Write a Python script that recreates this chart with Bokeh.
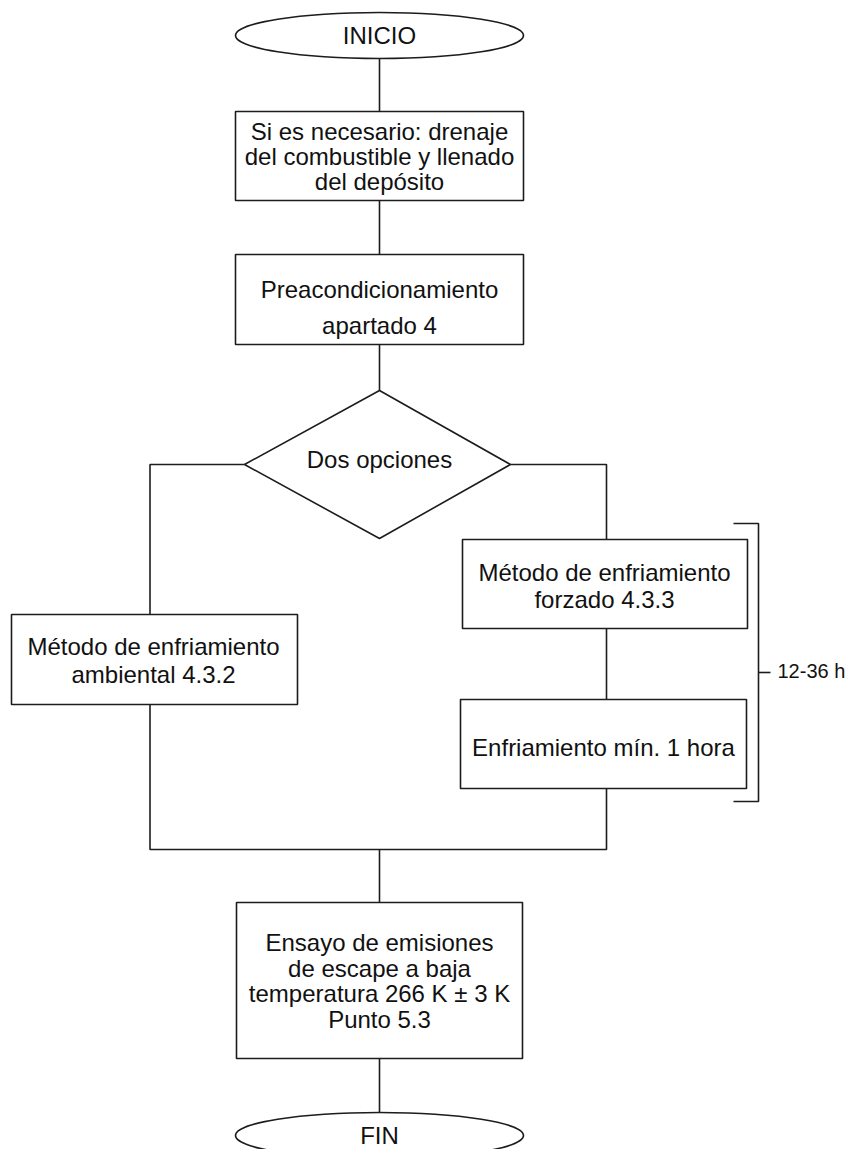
from bokeh.plotting import figure
from bokeh.models import Range1d, ColumnDataSource
from bokeh.core.properties import value
from bokeh.embed import file_html
from bokeh.resources import INLINE

# ---- content ----
terminal_labels = ["INICIO", "FIN"]
step_labels = [
    "Si es necesario: drenaje\ndel combustible y llenado\ndel depósito",
    "Preacondicionamiento\napartado 4",
    "Método de enfriamiento\nforzado 4.3.3",
    "Enfriamiento mín. 1 hora",
    "Método de enfriamiento\nambiental 4.3.2",
    "Ensayo de emisiones\nde escape a baja\ntemperatura 266 K ± 3 K\nPunto 5.3",
]
decision_label = "Dos opciones"
duration_label = "12-36 h"

# ---- layout (page pixel coordinates) ----
term_x = [379, 379]
term_y = [35, 1135]
term_w = 288
term_h = 46

step_left = [235, 235, 462, 460, 11, 236]
step_right = [523, 523, 747, 746, 297, 522]
step_top = [111, 254, 539, 699, 614, 902]
step_bottom = [200, 344, 628, 788, 704, 1058]
step_text_x = [379, 379, 604, 603, 153, 379]
step_text_y = [156, 307, 585.5, 747, 660, 980.5]
step_line_gap = [25, 36, 27, 0, 28, 25.7]

dia_x = [379, 510, 379, 244]
dia_y = [390, 464, 538, 464]
dia_text = (379, 459)

connectors_x = [
    [379, 379], [379, 379], [379, 379],
    [244, 149.5, 149.5], [510, 606, 606],
    [149.5, 149.5, 606, 606], [606, 606],
    [379, 379], [379, 379],
]
connectors_y = [
    [58, 111], [200, 254], [344, 390],
    [464, 464, 614], [464, 464, 539],
    [704, 849, 849, 788], [628, 699],
    [849, 902], [1058, 1112],
]

bracket_x = [733, 758, 758, 733]
bracket_y = [523, 523, 801, 801]
tick_x = [758, 770]
tick_y = [672, 672]
duration_pos = (777, 670)

LINE = "#1c1c1c"
TXT = "#111111"
FONT = value("Liberation Sans")
LW = 1.6
W, H = 851, 1149

p = figure(width=W, height=H, output_backend="svg", toolbar_location=None,
           x_range=Range1d(0, W), y_range=Range1d(H, 0),
           min_border=0, min_border_left=0, min_border_right=0,
           min_border_top=0, min_border_bottom=0)
p.axis.visible = False
p.grid.visible = False
p.outline_line_color = None
p.background_fill_color = "white"

# connectors
p.multi_line(xs=connectors_x, ys=connectors_y, line_color=LINE, line_width=LW)
p.line(bracket_x, bracket_y, line_color=LINE, line_width=LW)
p.line(tick_x, tick_y, line_color=LINE, line_width=LW)

# boxes
p.quad(left=step_left, right=step_right, top=step_top, bottom=step_bottom,
       fill_color="white", line_color=LINE, line_width=LW)

# decision
p.patch(dia_x, dia_y, fill_color="white", line_color=LINE, line_width=LW)

# terminals
p.ellipse(x=term_x, y=term_y, width=term_w, height=term_h,
          fill_color="white", line_color=LINE, line_width=LW)

# texts
tx, ty, tt = [], [], []
for lab, cx, cy, gap in zip(step_labels, step_text_x, step_text_y, step_line_gap):
    lines = lab.split("\n")
    n = len(lines)
    for i, ln in enumerate(lines):
        tx.append(cx)
        ty.append(cy + (i - (n - 1) / 2) * gap)
        tt.append(ln)
for lab, cx, cy in zip(terminal_labels, term_x, term_y):
    tx.append(cx); ty.append(cy); tt.append(lab)
tx.append(dia_text[0]); ty.append(dia_text[1]); tt.append(decision_label)

src = ColumnDataSource(dict(x=tx, y=ty, text=tt))
p.text(x="x", y="y", text="text", source=src, text_font=FONT,
       text_font_size="24px", text_color=TXT, text_align="center",
       text_baseline="middle")

p.text(x=[duration_pos[0]], y=[duration_pos[1]], text=[duration_label],
       text_font=FONT, text_font_size="20px", text_color=TXT,
       text_align="left", text_baseline="middle")

open("out.html", "w").write(file_html(p, INLINE))
